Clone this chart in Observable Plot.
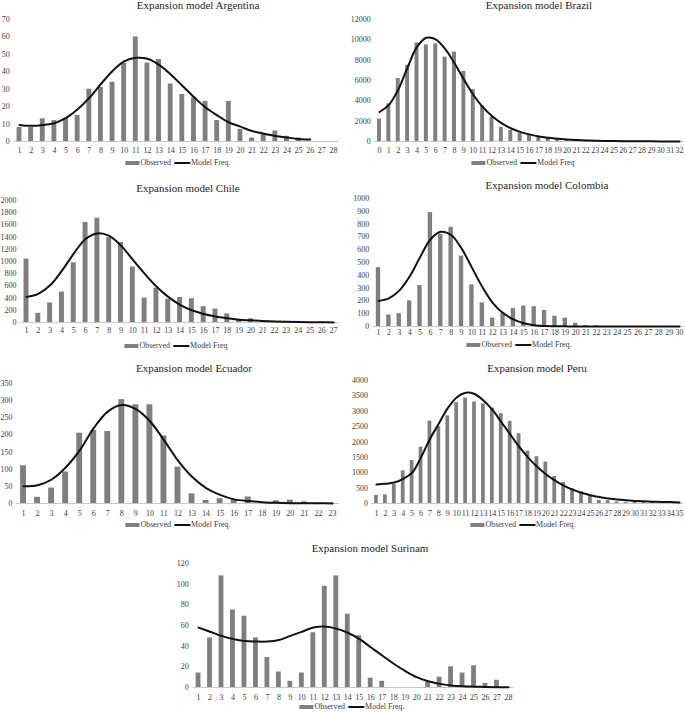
<!DOCTYPE html>
<html><head><meta charset="utf-8">
<script src="https://cdn.jsdelivr.net/npm/d3@7"></script>
<script src="https://cdn.jsdelivr.net/npm/@observablehq/plot@0.6"></script>
<style>
body{margin:0;background:#fff;font-family:"Liberation Serif","Times New Roman",serif;}
#root{position:relative;width:685px;height:713px;overflow:hidden;background:#fff;}
.title{position:absolute;font-size:11px;line-height:12px;color:#262626;white-space:nowrap;transform:translateX(-50%);}
.legend{position:absolute;font-size:8px;line-height:10px;color:#404040;white-space:nowrap;transform:translateX(-50%);display:flex;align-items:center;}
.sw-bar{display:inline-block;width:14px;height:4px;background:#7f7f7f;margin-right:1px;}
.sw-line{display:inline-block;width:16px;height:2px;background:#111;margin:0 1px 0 3px;}
.panel{position:absolute;}
</style></head><body><div id="root"></div>
<script>
// ---------- DATA ----------
const argentinaX = [1,2,3,4,5,6,7,8,9,10,11,12,13,14,15,16,17,18,19,20,21,22,23,24,25,26,27,28];
const argentinaObserved = [8,8,13,12,13,15,30,31,34,45,60,45,47,33,27,25,23,12,23,7,2,4,6,3,2,0,0,0];
const argentinaModel = [9.5,9,9.5,10.5,13.5,18.5,25,33,40.5,46,48,47.5,44,38.5,32,25.5,19.5,15,11,8.5,6,4.5,3.2,2.3,1.5,1.2];
const argentinaYTicks = [0,10,20,30,40,50,60,70];

const brazilX = [0,1,2,3,4,5,6,7,8,9,10,11,12,13,14,15,16,17,18,19,20,21,22,23,24,25,26,27,28,29,30,31,32];
const brazilObserved = [2200,3700,6200,7500,9700,9500,9600,8300,8800,6900,5100,3500,2400,1400,1100,800,700,500,400,300,200,150,100,80,60,50,40,30,20,20,10,10,10];
const brazilModel = [2900,3600,5100,7300,9300,10200,10050,9100,7700,6100,4600,3400,2500,1800,1300,950,700,500,370,270,200,150,110,80,60,45,35,25,20,15,10,8,6];
const brazilYTicks = [0,2000,4000,6000,8000,10000,12000];

const chileX = [1,2,3,4,5,6,7,8,9,10,11,12,13,14,15,16,17,18,19,20,21,22,23,24,25,26,27];
const chileObserved = [1040,150,320,500,980,1640,1710,1390,1310,910,400,560,380,410,390,260,220,140,50,60,20,10,5,5,3,2,2];
const chileModel = [420,470,610,850,1130,1370,1460,1420,1260,1030,800,590,420,290,200,140,100,70,45,35,25,18,12,8,5,3,2];
const chileYTicks = [0,200,400,600,800,1000,1200,1400,1600,1800,2000];

const colombiaX = [1,2,3,4,5,6,7,8,9,10,11,12,13,14,15,16,17,18,19,20,21,22,23,24,25,26,27,28,29,30];
const colombiaObserved = [460,90,100,200,320,890,720,775,550,325,185,65,105,140,160,155,125,80,65,25,8,5,0,0,0,0,0,0,0,0];
const colombiaModel = [200,220,280,390,540,680,740,715,610,460,310,185,105,55,25,10,4,2,1,0,0,0,0,0,0,0,0,0,0,0];
const colombiaYTicks = [0,100,200,300,400,500,600,700,800,900,1000];

const ecuadorX = [1,2,3,4,5,6,7,8,9,10,11,12,13,14,15,16,17,18,19,20,21,22,23];
const ecuadorObserved = [110,18,45,92,205,213,210,303,288,288,197,106,28,9,14,12,19,2,8,10,5,1,1];
const ecuadorModel = [50,53,70,105,155,220,268,287,275,240,185,125,78,45,25,12,7,4,2,1,1,0.5,0.3];
const ecuadorYTicks = [0,50,100,150,200,250,300,350];

const peruX = [1,2,3,4,5,6,7,8,9,10,11,12,13,14,15,16,17,18,19,20,21,22,23,24,25,26,27,28,29,30,31,32,33,34,35];
const peruObserved = [260,280,620,1060,1400,1830,2680,2500,2850,3280,3430,3300,3240,3100,2920,2670,2270,1700,1520,1350,880,680,480,380,250,100,90,50,30,30,40,50,10,30,0];
const peruModel = [620,640,680,800,1000,1500,2100,2600,3100,3450,3600,3560,3350,3050,2650,2250,1850,1500,1200,950,750,580,450,350,270,210,165,130,105,85,70,60,50,45,35];
const peruYTicks = [0,500,1000,1500,2000,2500,3000,3500,4000];

const surinamX = [1,2,3,4,5,6,7,8,9,10,11,12,13,14,15,16,17,18,19,20,21,22,23,24,25,26,27,28];
const surinamObserved = [14,48,108,75,69,48,29,15,6,14,53,98,108,71,50,9,6,0,0,0,5,10,20,14,21,4,7,0];
const surinamModel = [58,54,50,47,45,44.5,44.5,46,50,54,58,59,57,53,47,39,31,23,16,10,6,3.5,2,1.2,0.8,0.5,0.3,0.2];
const surinamYTicks = [0,20,40,60,80,100,120];

// ---------- LAYOUT ----------
const panels = [
  {title:"Expansion model Argentina", x:argentinaX, obs:argentinaObserved, model:argentinaModel, yTicks:argentinaYTicks,
   left:0, top:8, width:342, height:152, fL:13.2, fR:338.8, fT:19, fB:141, xPad:6, titleX:198, titleY:5, legX:178, legY:163, legText:"Model Freq."},
  {title:"Expansion model Brazil", x:brazilX, obs:brazilObserved, model:brazilModel, yTicks:brazilYTicks,
   left:345, top:8, width:340, height:152, fL:374.3, fR:683.7, fT:19, fB:141, xPad:6, titleX:539, titleY:5, legX:523, legY:163, legText:"Model Freq"},
  {title:"Expansion model Chile", x:chileX, obs:chileObserved, model:chileModel, yTicks:chileYTicks,
   left:0, top:192, width:342, height:146, fL:20.1, fR:339, fT:200, fB:322, xPad:5, titleX:188, titleY:188, legX:176, legY:346, legText:"Model Freq"},
  {title:"Expansion model Colombia", x:colombiaX, obs:colombiaObserved, model:colombiaModel, yTicks:colombiaYTicks,
   left:345, top:190, width:340, height:148, fL:372.8, fR:684.2, fT:198, fB:326, xPad:3, titleX:547, titleY:185, legX:519, legY:345, legText:"Model Freq."},
  {title:"Expansion model Ecuador", x:ecuadorX, obs:ecuadorObserved, model:ecuadorModel, yTicks:ecuadorYTicks,
   left:0, top:375, width:342, height:145, fL:16, fR:339, fT:383, fB:503, xPad:7, titleX:194, titleY:368, legX:178, legY:525, legText:"Model Freq."},
  {title:"Expansion model Peru", x:peruX, obs:peruObserved, model:peruModel, yTicks:peruYTicks,
   left:345, top:372, width:340, height:148, fL:371.5, fR:683.5, fT:380, fB:503, xPad:7, titleX:537, titleY:368, legX:523, legY:525, legText:"Model Freq."},
  {title:"Expansion model Surinam", x:surinamX, obs:surinamObserved, model:surinamModel, yTicks:surinamYTicks,
   left:160, top:555, width:370, height:150, fL:192.3, fR:513.7, fT:563, fB:687, xPad:7, titleX:370, titleY:548, legX:352, legY:707, legText:"Model Freq."}
];

const root = document.getElementById("root");
const FONT = '"Liberation Serif","Times New Roman",serif';

for (const p of panels) {
  const obs = p.x.map((x, i) => ({x, y: p.obs[i]}));
  const mod = p.model.map((y, i) => ({x: p.x[i], y}));
  const x0 = p.x[0], xn = p.x[p.x.length - 1];
  const ymax = p.yTicks[p.yTicks.length - 1];
  const svg = Plot.plot({
    width: p.width, height: p.height,
    marginLeft: p.fL - p.left, marginRight: p.left + p.width - p.fR,
    marginTop: p.fT - p.top, marginBottom: p.top + p.height - p.fB,
    x: {domain: [x0 - 0.5, xn + 0.5], ticks: p.x, tickFormat: d => String(d), tickSize: 0, tickPadding: p.xPad, label: null},
    y: {domain: [0, ymax], ticks: p.yTicks, tickFormat: d => String(d), tickSize: 0, tickPadding: 4, label: null},
    style: {fontFamily: FONT, fontSize: "8px", color: "#404040", background: "transparent", overflow: "visible"},
    marks: [
      Plot.ruleY([0], {stroke: "#c8c8c8", strokeWidth: 1}),
      Plot.rect(obs, {x1: d => d.x - 0.21, x2: d => d.x + 0.21, y1: 0, y2: "y", fill: "#7f7f7f"}),
      Plot.line(mod, {x: "x", y: "y", stroke: "#111", strokeWidth: 2, curve: "catmull-rom"})
    ]
  });
  const wrap = document.createElement("div");
  wrap.className = "panel";
  wrap.style.left = p.left + "px";
  wrap.style.top = p.top + "px";
  wrap.appendChild(svg);
  root.appendChild(wrap);

  const t = document.createElement("div");
  t.className = "title";
  t.textContent = p.title;
  t.style.left = p.titleX + "px";
  t.style.top = (p.titleY - 6) + "px";
  root.appendChild(t);

  const lg = document.createElement("div");
  lg.className = "legend";
  lg.style.left = p.legX + "px";
  lg.style.top = (p.legY - 5) + "px";
  lg.innerHTML = '<span class="sw-bar"></span>Observed<span class="sw-line"></span>' + p.legText;
  root.appendChild(lg);
}
</script></body></html>
